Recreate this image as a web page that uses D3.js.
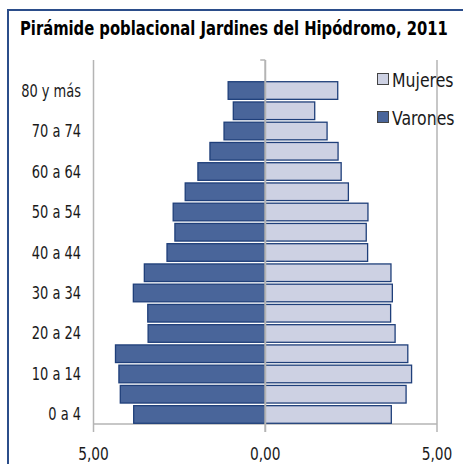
<!DOCTYPE html>
<html><head><meta charset="utf-8">
<script src="https://cdn.jsdelivr.net/npm/d3@7/dist/d3.min.js"></script>
<style>body{margin:0;background:#fff}svg{display:block}</style>
</head><body>
<script>
const categories = ["0 a 4","5 a 9","10 a 14","15 a 19","20 a 24","25 a 29","30 a 34","35 a 39","40 a 44","45 a 49","50 a 54","55 a 59","60 a 64","65 a 69","70 a 74","75 a 79","80 y más"];
const varones = [3.83,4.22,4.26,4.36,3.41,3.42,3.84,3.52,2.86,2.63,2.68,2.33,1.96,1.61,1.20,0.93,1.08];
const mujeres = [3.67,4.10,4.26,4.15,3.78,3.65,3.70,3.66,2.98,2.94,2.99,2.42,2.21,2.12,1.80,1.44,2.11];
const shownLabels = ["0 a 4","10 a 14","20 a 24","30 a 34","40 a 44","50 a 54","60 a 64","70 a 74","80 y más"];
const tickValues = [-5,0,5];
const tickLabels = ["5,00","0,00","5,00"];
const title = "Pirámide poblacional Jardines del Hipódromo, 2011";
const seriesNames = ["Mujeres","Varones"];

const W=463,H=464;
const font = "'DejaVu Sans Condensed','DejaVu Sans',sans-serif";
const svg = d3.select("body").append("svg").attr("width",W).attr("height",H);

const x = d3.scaleLinear().domain([-5,5]).range([93.5,437]);
const y = d3.scaleBand().domain(categories).range([424.6,80.4]).paddingInner(0.13).paddingOuter(0.065);

const grid="#b4b4b4";
const txt="#1a1a1a";
// frame
svg.append("path").attr("d","M8,464V10H463").attr("fill","none").attr("stroke","#2b4d8a").attr("stroke-width",2);

// title, horizontally condensed to the reference width
const tt = svg.append("text").attr("font-family",font).attr("font-weight","bold")
  .attr("font-size",20).attr("fill","#000").text(title);
const tw = tt.node().getComputedTextLength();
tt.attr("transform",`translate(20,35) scale(${428/tw},1)`);

// gridlines at -5 and 5
svg.selectAll("line.g").data([-5,5]).join("line").attr("class","g")
  .attr("x1",d=>x(d)).attr("x2",d=>x(d)).attr("y1",60).attr("y2",432)
  .attr("stroke",grid).attr("stroke-width",1.5);
// bottom axis line
svg.append("line").attr("x1",x(-5)).attr("x2",x(5)).attr("y1",424).attr("y2",424).attr("stroke",grid).attr("stroke-width",1.5);

const stroke="#1f3f7a";
// bars
svg.selectAll("rect.v").data(categories).join("rect").attr("class","v")
  .attr("x",(d,i)=>x(-varones[i])).attr("width",(d,i)=>x(0)-x(-varones[i]))
  .attr("y",d=>y(d)).attr("height",y.bandwidth())
  .attr("fill","#49659a").attr("stroke",stroke).attr("stroke-width",1.3);
svg.selectAll("rect.m").data(categories).join("rect").attr("class","m")
  .attr("x",x(0)).attr("width",(d,i)=>x(mujeres[i])-x(0))
  .attr("y",d=>y(d)).attr("height",y.bandwidth())
  .attr("fill","#cdd1e3").attr("stroke",stroke).attr("stroke-width",1.3);

// zero axis over bars
svg.append("line").attr("x1",x(0)).attr("x2",x(0)).attr("y1",60).attr("y2",432).attr("stroke",grid).attr("stroke-width",2);
svg.append("line").attr("x1",x(0)-5).attr("x2",x(0)).attr("y1",60).attr("y2",60).attr("stroke",grid).attr("stroke-width",1.5);

// category labels
svg.selectAll("text.c").data(shownLabels).join("text").attr("class","c")
  .attr("transform",d=>`translate(81,${y(d)+y.bandwidth()/2+6}) scale(0.85,1)`)
  .attr("text-anchor","end").attr("font-family",font).attr("font-size",17).attr("fill",txt).text(d=>d);

// x tick labels
svg.selectAll("text.t").data(tickValues).join("text").attr("class","t")
  .attr("transform",d=>`translate(${x(d)},460) scale(0.9,1)`).attr("text-anchor","middle")
  .attr("font-family",font).attr("font-size",17).attr("fill",txt).text((d,i)=>tickLabels[i]);

// legend
const lg=[{n:seriesNames[0],f:"#cdd1e3",y:73},{n:seriesNames[1],f:"#49659a",y:111}];
lg.forEach(l=>{
  svg.append("rect").attr("x",377.5).attr("y",l.y+0.5).attr("width",11).attr("height",11).attr("fill",l.f).attr("stroke","#444").attr("stroke-width",1);
  svg.append("text").attr("transform",`translate(392,${l.y+14}) scale(0.92,1)`).attr("font-family",font).attr("font-size",19).attr("fill",txt).text(l.n);
});
</script>
</body></html>
